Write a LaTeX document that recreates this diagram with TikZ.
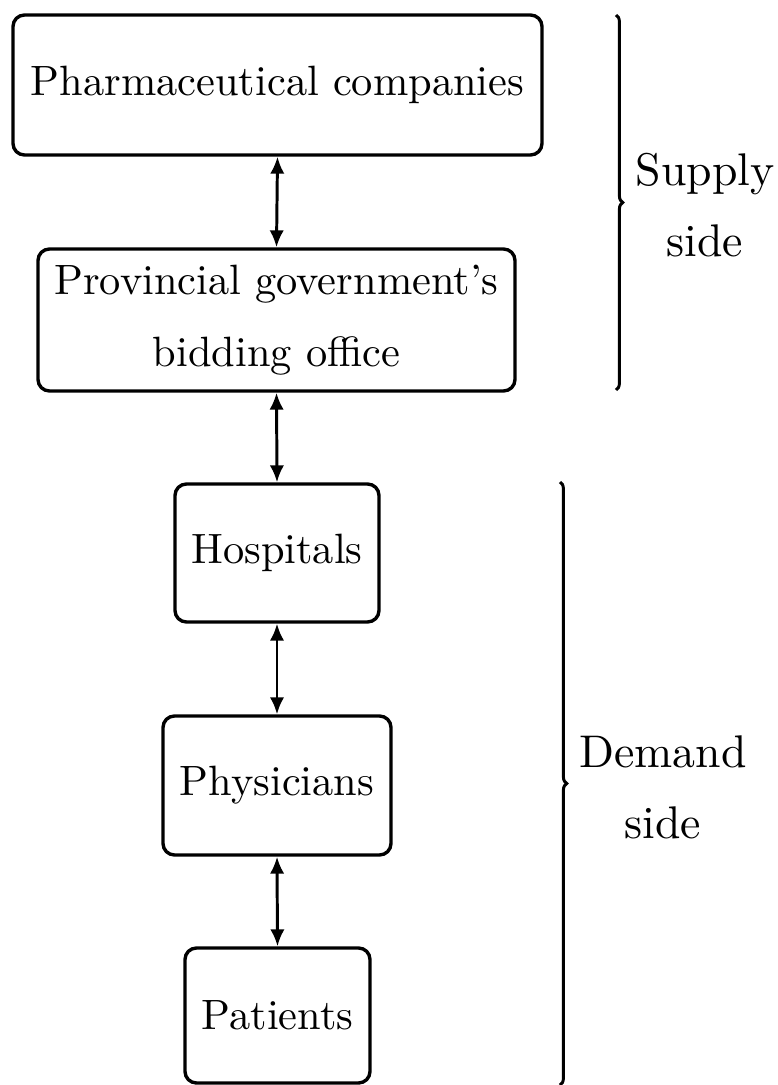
\documentclass[tikz,border=0pt]{standalone}
\usetikzlibrary{decorations.pathreplacing,arrows.meta}
\begin{document}
\begin{tikzpicture}[x=0.2358pt,y=-0.2358pt,
  box/.style={draw,line width=0.8pt,rounded corners=2.7pt,align=center,inner sep=0pt,font=\fontsize{10}{12}\selectfont},
  link/.style={line width=0.7pt,{Latex[length=4pt,width=3.4pt]}-{Latex[length=4pt,width=3.4pt]}},
  brc/.style={decorate,decoration={brace,amplitude=1.6pt},line width=0.7pt},
  lbl/.style={align=center,inner sep=0pt,font=\fontsize{10.8}{16.8}\selectfont}]
\useasboundingbox (0,0) rectangle (778,1085);
\node[box,minimum width=529*0.2358pt,minimum height=140*0.2358pt] (pharma) at (277.5,85) {Pharmaceutical companies};
\node[box,minimum width=477*0.2358pt,minimum height=142*0.2358pt] (gov) at (276.5,320) {Provincial government's\\[5pt]bidding office};
\node[box,minimum width=204*0.2358pt,minimum height=138*0.2358pt] (hosp) at (277,553) {Hospitals};
\node[box,minimum width=228*0.2358pt,minimum height=139*0.2358pt] (phys) at (277,785.5) {Physicians};
\node[box,minimum width=185*0.2358pt,minimum height=135*0.2358pt] (pat) at (277.5,1015.5) {Patients};
\draw[link] (pharma.south) -- (gov.north);
\draw[link] (gov.south) -- (hosp.north);
\draw[link] (hosp.south) -- (phys.north);
\draw[link] (phys.south) -- (pat.north);
\coordinate (s1) at (616,15);
\coordinate (s2) at (616,390);
\coordinate (d1) at (560,482);
\coordinate (d2) at (560,1085);
\draw[brc] (s1) -- (s2);
\draw[brc] (d1) -- (d2);
\node[lbl] (supply) at (705,205) {Supply\\side};
\node[lbl] (demand) at (663,787) {Demand\\side};
\end{tikzpicture}
\end{document}
